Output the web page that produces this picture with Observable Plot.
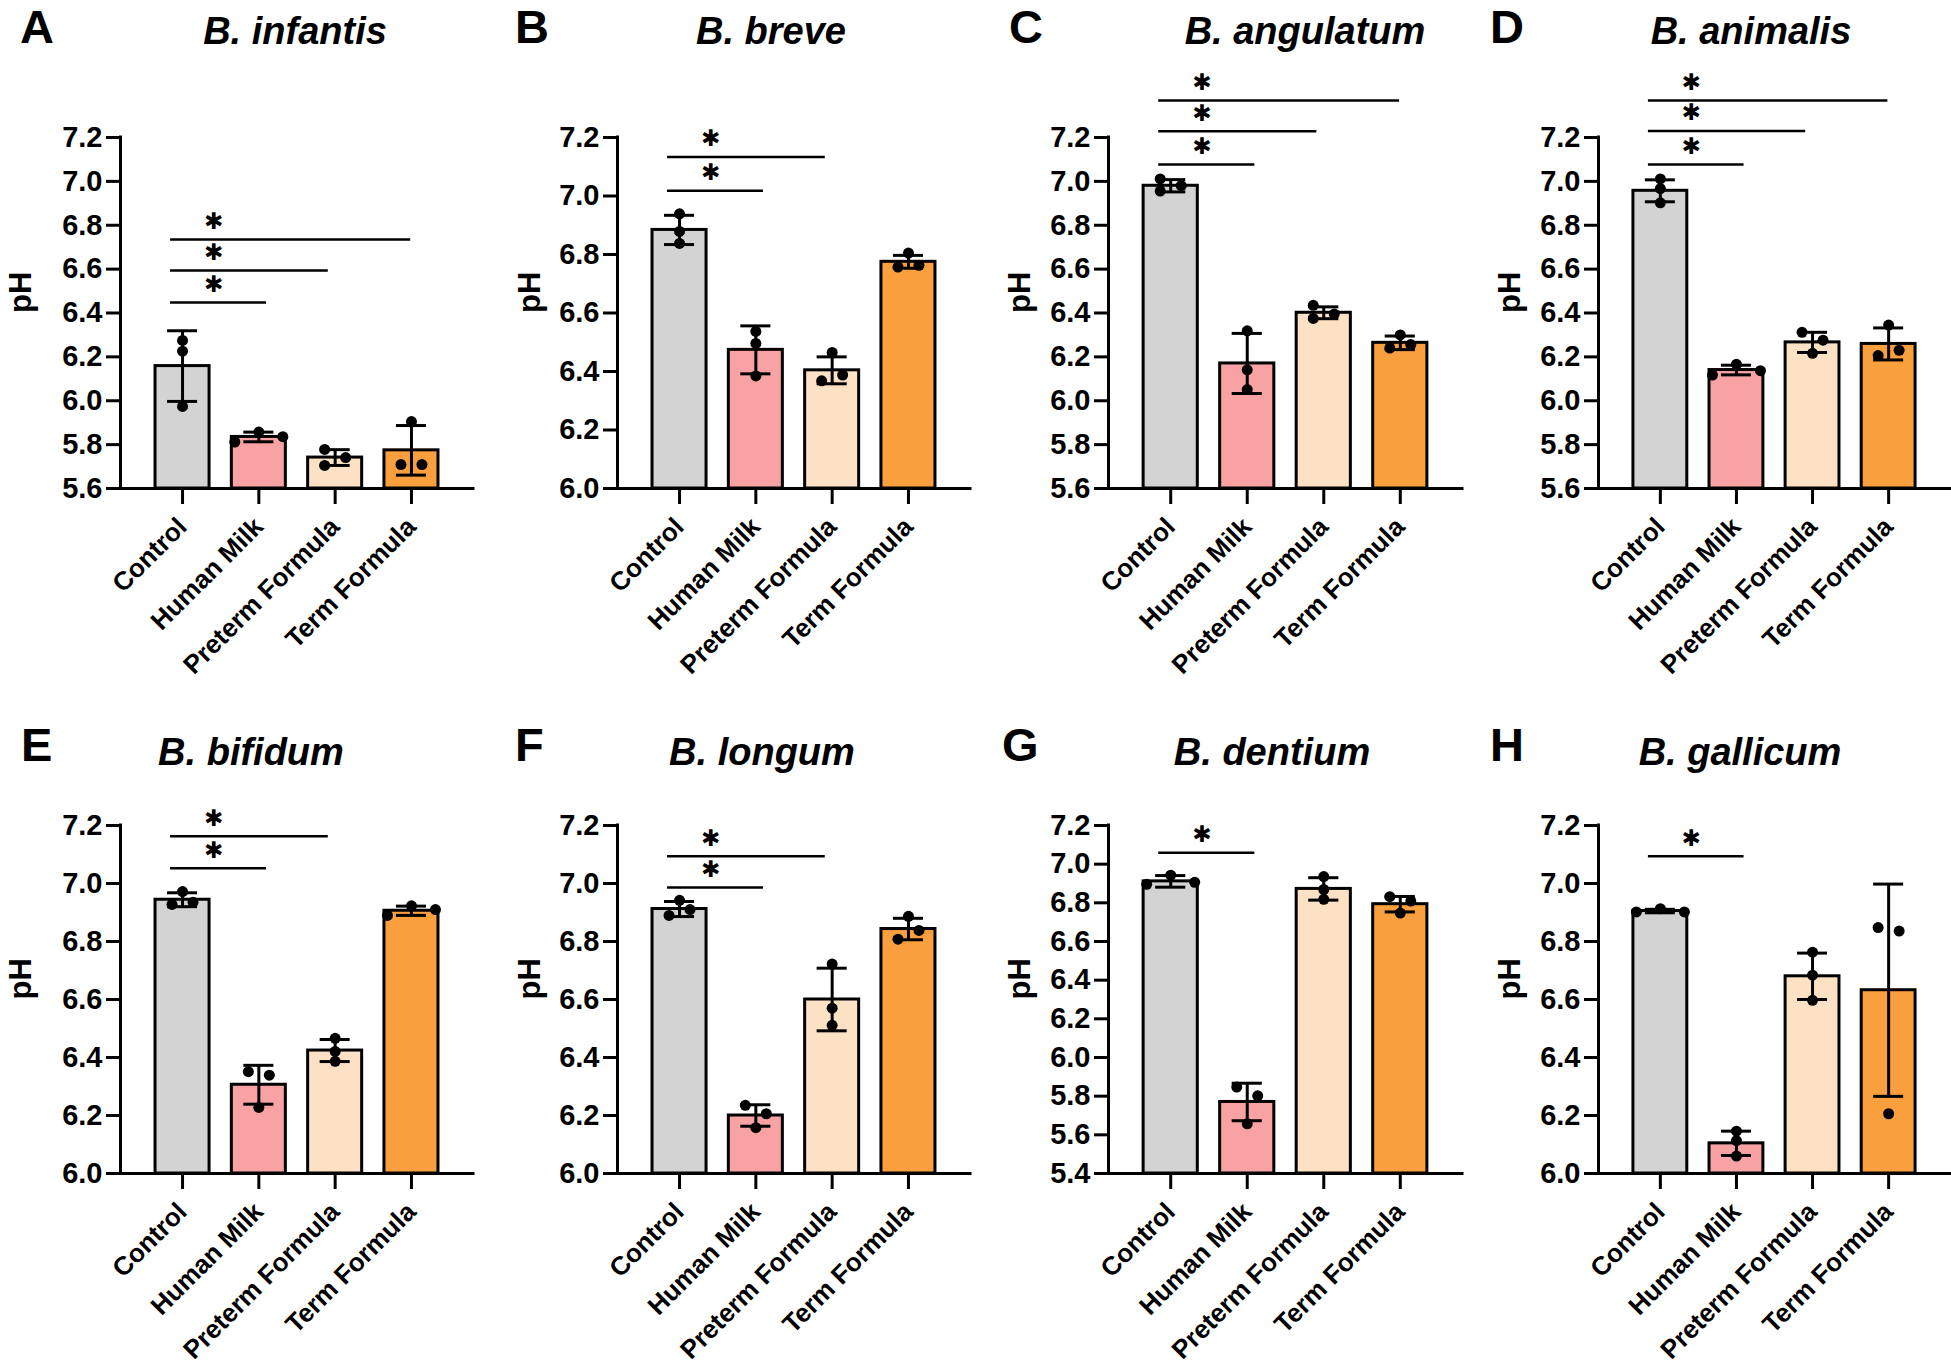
<!DOCTYPE html>
<html><head><meta charset="utf-8">
<script src="https://cdn.jsdelivr.net/npm/d3@7"></script>
<script src="https://cdn.jsdelivr.net/npm/@observablehq/plot@0.6"></script>
<style>
html,body{margin:0;padding:0;background:#fff;}
body{width:1951px;height:1366px;position:relative;overflow:hidden;font-family:"Liberation Sans",Arial,sans-serif;color:#000;}
.letter{position:absolute;font-weight:bold;font-size:47px;line-height:1;white-space:nowrap;}
.title{position:absolute;font-weight:bold;font-style:italic;font-size:38px;line-height:1;white-space:nowrap;transform:translateX(-50%);}
.plotbox{position:absolute;}
.plotbox svg{overflow:visible;}
</style></head><body>
<script>
// ---------------- DATA ----------------
const groups = ["Control", "Human Milk", "Preterm Formula", "Term Formula"];
const groupColors = ["#d3d3d3", "#f8a2a3", "#fde1c4", "#f99f3e"];
const panelLetters = ["A", "B", "C", "D", "E", "F", "G", "H"];
const speciesNames = ["B. infantis", "B. breve", "B. angulatum", "B. animalis", "B. bifidum", "B. longum", "B. dentium", "B. gallicum"];
const yAxisMin = [5.6, 6.0, 5.6, 5.6, 6.0, 6.0, 5.4, 6.0];
const yAxisMax = [7.2, 7.2, 7.2, 7.2, 7.2, 7.2, 7.2, 7.2];
const yTicks56 = [5.6, 5.8, 6.0, 6.2, 6.4, 6.6, 6.8, 7.0, 7.2];
const yTicks60 = [6.0, 6.2, 6.4, 6.6, 6.8, 7.0, 7.2];
const yTicks54 = [5.4, 5.6, 5.8, 6.0, 6.2, 6.4, 6.6, 6.8, 7.0, 7.2];

// mean pH and SD per group (Control, Human Milk, Preterm Formula, Term Formula)
const meanA = [6.158, 5.835, 5.741, 5.774];
const sdA   = [0.161, 0.022, 0.036, 0.113];
const ptsA  = [[6.275, 6.226, 5.974], [5.812, 5.857, 5.836], [5.778, 5.705, 5.741], [5.905, 5.709, 5.709]];

const meanB = [6.884, 6.474, 6.404, 6.775];
const sdB   = [0.050, 0.082, 0.046, 0.022];
const ptsB  = [[6.939, 6.879, 6.838], [6.537, 6.496, 6.385], [6.465, 6.368, 6.388], [6.805, 6.757, 6.763]];

const meanC = [6.980, 6.170, 6.401, 6.264];
const sdC   = [0.028, 0.137, 0.027, 0.031];
const ptsC  = [[7.011, 6.956, 6.981], [6.319, 6.141, 6.051], [6.435, 6.375, 6.395], [6.300, 6.240, 6.256]];

const meanD = [6.957, 6.140, 6.266, 6.259];
const sdD   = [0.050, 0.022, 0.046, 0.073];
const ptsD  = [[7.011, 6.967, 6.902], [6.117, 6.166, 6.137], [6.312, 6.276, 6.216], [6.345, 6.206, 6.230]];

const meanE = [6.944, 6.306, 6.424, 6.906];
const sdE   = [0.024, 0.067, 0.038, 0.016];
const ptsE  = [[6.972, 6.928, 6.935], [6.351, 6.339, 6.228], [6.466, 6.387, 6.421], [6.890, 6.923, 6.910]];

const meanF = [6.912, 6.200, 6.600, 6.843];
const sdF   = [0.026, 0.037, 0.108, 0.037];
const ptsF  = [[6.942, 6.890, 6.910], [6.235, 6.206, 6.158], [6.722, 6.570, 6.511], [6.887, 6.808, 6.838]];

const meanG = [6.911, 5.770, 6.872, 6.793];
const sdG   = [0.030, 0.097, 0.058, 0.040];
const ptsG  = [[6.896, 6.943, 6.906], [5.847, 5.802, 5.657], [6.936, 6.869, 6.818], [6.832, 6.809, 6.747]];

const meanH = [6.905, 6.104, 6.680, 6.632];
const sdH   = [0.006, 0.042, 0.080, 0.366];
const ptsH  = [[6.902, 6.913, 6.902], [6.146, 6.113, 6.060], [6.763, 6.684, 6.597], [6.848, 6.836, 6.206]];

// significance brackets (vs Control): compared group and bracket height (pH)
const sigGroupsA = ["Human Milk", "Preterm Formula", "Term Formula"]; const sigLevelsA = [6.448, 6.594, 6.735];
const sigGroupsB = ["Human Milk", "Preterm Formula"];                 const sigLevelsB = [7.018, 7.133];
const sigGroupsC = ["Human Milk", "Preterm Formula", "Term Formula"]; const sigLevelsC = [7.077, 7.228, 7.369];
const sigGroupsD = ["Human Milk", "Preterm Formula", "Term Formula"]; const sigLevelsD = [7.077, 7.230, 7.369];
const sigGroupsE = ["Human Milk", "Preterm Formula"];                 const sigLevelsE = [7.053, 7.163];
const sigGroupsF = ["Human Milk", "Preterm Formula"];                 const sigLevelsF = [6.986, 7.094];
const sigGroupsG = ["Human Milk"];                                    const sigLevelsG = [7.059];
const sigGroupsH = ["Human Milk"];                                    const sigLevelsH = [7.094];
const sigLabel = "\u2731";   // significance asterisk

const allMeans = [meanA, meanB, meanC, meanD, meanE, meanF, meanG, meanH];
const allSds = [sdA, sdB, sdC, sdD, sdE, sdF, sdG, sdH];
const allPts = [ptsA, ptsB, ptsC, ptsD, ptsE, ptsF, ptsG, ptsH];
const allSigGroups = [sigGroupsA, sigGroupsB, sigGroupsC, sigGroupsD, sigGroupsE, sigGroupsF, sigGroupsG, sigGroupsH];
const allSigLevels = [sigLevelsA, sigLevelsB, sigLevelsC, sigLevelsD, sigLevelsE, sigLevelsF, sigLevelsG, sigLevelsH];
const allTicks = [yTicks56, yTicks60, yTicks56, yTicks56, yTicks60, yTicks60, yTicks54, yTicks60];

// ---------------- LAYOUT (page geometry, px) ----------------
const L = {
  colLeft: [0, 490, 980, 1465], colWidth: [490, 490, 490, 486],
  axisX: [120, 617, 1108, 1598], axisEnd: [473, 970, 1462, 1950],
  svgTop: [60, 780], plotTop: [137, 825], plotBottom: [488, 1173], rowBottom: [683, 1366],
  letterBase: [43, 761], titleBase: [44, 765],
  letterX: [[20, 515, 1009, 1490], [21, 515, 1002, 1490]],
  titleCenter: [[295, 771, 1305, 1751], [251, 762, 1272, 1740]],
  phX: [21, 40, 40, 45]
};
const xLo = -0.813, xHi = 3.813;        // linear x domain around the 4 groups
const barHalf = 0.354, capHalf = 0.197;  // in group units
const sigStart = -0.157, starX = 0.406, starSize = 23;
const sigEndAdj = {"Human Milk": 0.10, "Preterm Formula": -0.09, "Term Formula": -0.01};

// spread overlapping points horizontally (GraphPad-like scatter)
function spread(vals, pxPerUnit) {
  const n = vals.length, off = new Array(n).fill(0);
  const parent = vals.map((_, i) => i);
  const find = i => parent[i] === i ? i : (parent[i] = find(parent[i]));
  for (let i = 0; i < n; i++) for (let j = i + 1; j < n; j++)
    if (Math.abs(vals[i] - vals[j]) * pxPerUnit < 9) parent[find(i)] = find(j);
  const clusters = new Map();
  for (let i = 0; i < n; i++) { const r = find(i); if (!clusters.has(r)) clusters.set(r, []); clusters.get(r).push(i); }
  for (const cl of clusters.values()) {
    if (cl.length < 2) continue;
    const cols = [[], []], colOff = [-10.5, 10.5], assign = [];
    let ok = true;
    for (const idx of cl) {
      let c = cols.findIndex(col => col.every(v => Math.abs(v - vals[idx]) * pxPerUnit >= 11));
      if (c < 0) { ok = false; break; }
      cols[c].push(vals[idx]); assign.push([idx, colOff[c]]);
    }
    if (ok) assign.forEach(([idx, o]) => off[idx] = o);
    else cl.forEach((idx, k) => off[idx] = (k - (cl.length - 1) / 2) * 24);
  }
  return off;
}

const font = "'Liberation Sans', Arial, sans-serif";

for (let p = 0; p < 8; p++) {
  const row = p >> 2, col = p % 4;
  const lo = yAxisMin[p], hi = yAxisMax[p];
  const left = L.colLeft[col], width = L.colWidth[col];
  const svgTop = L.svgTop[row], height = L.rowBottom[row] - svgTop;
  const marginLeft = L.axisX[col] - left, marginRight = left + width - L.axisEnd[col];
  const marginTop = L.plotTop[row] - svgTop, marginBottom = L.rowBottom[row] - L.plotBottom[row];
  const plotW = width - marginLeft - marginRight, plotH = height - marginTop - marginBottom;
  const stepPx = plotW / (xHi - xLo), pxPerUnit = plotH / (hi - lo);

  const bars = groups.map((g, i) => ({i, g, mean: allMeans[p][i], sd: allSds[p][i], color: groupColors[i]}));
  const pts = [];
  allPts[p].forEach((vals, i) => {
    const off = spread(vals, pxPerUnit);
    vals.forEach((v, k) => pts.push({x: i + off[k] / stepPx, v}));
  });
  const sigs = allSigGroups[p].map((g, k) => ({g, t: groups.indexOf(g), level: allSigLevels[p][k]}));

  // header
  const letter = document.createElement("div");
  letter.className = "letter"; letter.textContent = panelLetters[p];
  letter.style.left = L.letterX[row][col] + "px";
  letter.style.top = (L.letterBase[row] - 0.8465 * 47) + "px";
  document.body.appendChild(letter);
  const title = document.createElement("div");
  title.className = "title"; title.textContent = speciesNames[p];
  title.style.left = L.titleCenter[row][col] + "px";
  title.style.top = (L.titleBase[row] - 0.8465 * 38) + "px";
  document.body.appendChild(title);

  const chart = Plot.plot({
    width, height, marginLeft, marginRight, marginTop, marginBottom,
    style: {fontFamily: font, fontWeight: "bold", fontSize: "29px", color: "#000", background: "transparent", overflow: "visible"},
    x: {type: "linear", domain: [xLo, xHi], axis: null},
    y: {domain: [lo, hi], axis: null},
    color: {type: "identity"},
    marks: [
      Plot.rectY(bars, {x1: d => d.i - barHalf, x2: d => d.i + barHalf, y1: lo, y2: "mean", fill: "color", stroke: "#000", strokeWidth: 3}),
      Plot.ruleX(bars, {x: "i", y1: d => d.mean - d.sd, y2: d => d.mean + d.sd, stroke: "#000", strokeWidth: 3}),
      Plot.ruleY(bars, {y: d => d.mean + d.sd, x1: d => d.i - capHalf, x2: d => d.i + capHalf, stroke: "#000", strokeWidth: 3}),
      Plot.ruleY(bars, {y: d => d.mean - d.sd, x1: d => d.i - capHalf, x2: d => d.i + capHalf, stroke: "#000", strokeWidth: 3}),
      Plot.dot(pts, {x: "x", y: "v", r: 5.5, fill: "#000", stroke: "none"}),
      Plot.ruleY(sigs, {y: "level", x1: sigStart, x2: d => d.t + sigEndAdj[d.g], stroke: "#000", strokeWidth: 2.5}),
      Plot.text(sigs, {x: starX, y: "level", text: () => sigLabel, fontFamily: "'DejaVu Sans', sans-serif", fontSize: starSize, fontWeight: "normal", lineAnchor: "middle", dy: -18, fill: "#000"}),
      Plot.axisY({ticks: allTicks[p], tickFormat: d => d.toFixed(1), tickSize: 14, tickPadding: 4, strokeWidth: 3, label: null, fontSize: 29, fontWeight: "bold"}),
      Plot.axisX({ticks: [0, 1, 2, 3], tickFormat: i => groups[i], tickRotate: -45, tickSize: 16, tickPadding: 18, strokeWidth: 3, label: null, fontSize: 26, fontWeight: "bold"}),
      Plot.ruleX([xLo], {y1: lo, y2: hi, stroke: "#000", strokeWidth: 3, strokeLinecap: "square"}),
      Plot.ruleY([lo], {stroke: "#000", strokeWidth: 3, strokeLinecap: "square"}),
      Plot.text(["pH"], {frameAnchor: "left", dx: L.phX[col] - marginLeft, rotate: -90, fontSize: 31, fontWeight: "bold", fill: "#000"})
    ]
  });
  const box = document.createElement("div");
  box.className = "plotbox";
  box.style.left = left + "px"; box.style.top = svgTop + "px";
  box.appendChild(chart);
  document.body.appendChild(box);
}
</script>
</body></html>
